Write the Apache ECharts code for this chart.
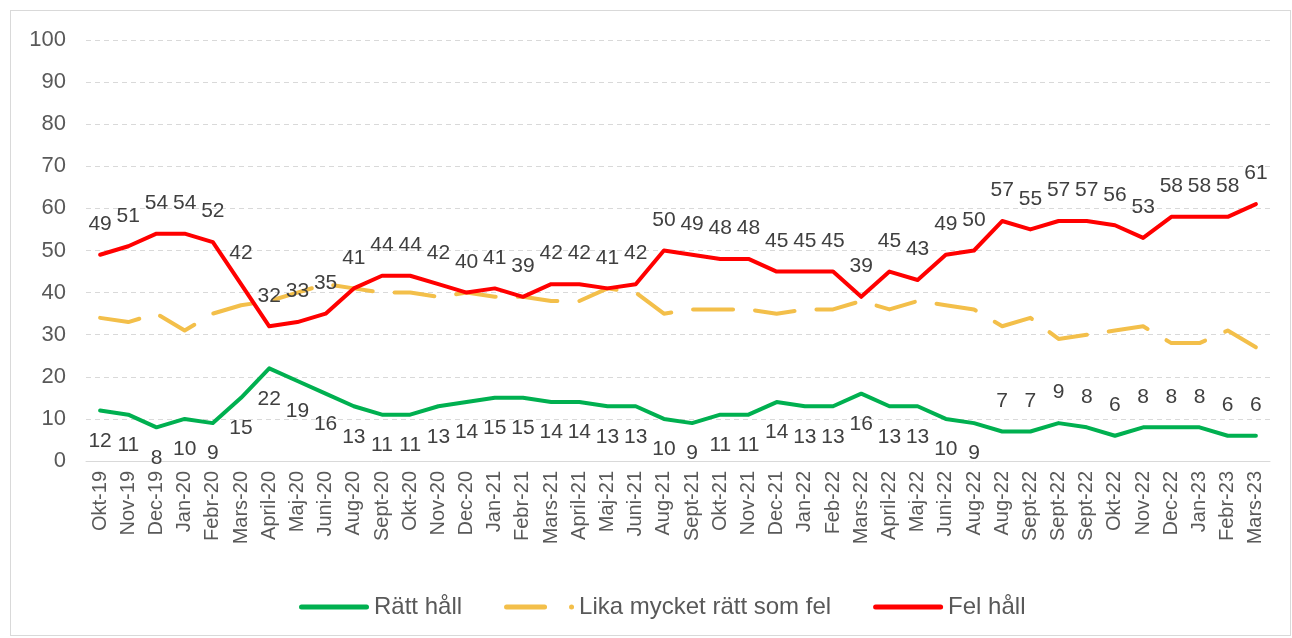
<!DOCTYPE html>
<html>
<head>
<meta charset="utf-8">
<script src="https://cdn.jsdelivr.net/npm/echarts@6/dist/echarts.min.js"></script>
<style>
  html, body { margin: 0; padding: 0; background: #fff; }
  #chart { position: absolute; left: 0; top: 0; width: 1292px; height: 638px; }
  #frame { position: absolute; left: 10px; top: 10px; width: 1279px; height: 624px; border: 1px solid #d9d9d9; }
</style>
</head>
<body>
<div id="frame"></div>
<div id="chart"></div>
<script>
// kategorier (månader)
const months = [
  'Okt-19', 'Nov-19', 'Dec-19', 'Jan-20', 'Febr-20', 'Mars-20', 'April-20', 'Maj-20', 'Juni-20',
  'Aug-20', 'Sept-20', 'Okt-20', 'Nov-20', 'Dec-20', 'Jan-21', 'Febr-21', 'Mars-21', 'April-21',
  'Maj-21', 'Juni-21', 'Aug-21', 'Sept-21', 'Okt-21', 'Nov-21', 'Dec-21', 'Jan-22', 'Feb-22',
  'Mars-22', 'April-22', 'Maj-22', 'Juni-22', 'Aug-22', 'Aug-22', 'Sept-22', 'Sept-22', 'Sept-22',
  'Okt-22', 'Nov-22', 'Dec-22', 'Jan-23', 'Febr-23', 'Mars-23'
];

const rattHall = [
  12, 11, 8, 10, 9, 15, 22, 19, 16, 13, 11, 11, 13, 14, 15, 15, 14, 14, 13, 13, 10,
  9, 11, 11, 14, 13, 13, 16, 13, 13, 10, 9, 7, 7, 9, 8, 6, 8, 8, 8, 6, 6
];

const likaMycket = [
  34, 33, 35, 31, 35, 37, 38, 40, 42, 41, 40, 40, 39, 40, 39, 39, 38, 38, 41, 40, 35,
  36, 36, 36, 35, 36, 36, 38, 36, 38, 37, 36, 32, 34, 29, 30, 31, 32, 28, 28, 31, 27
];

const felHall = [
  49, 51, 54, 54, 52, 42, 32, 33, 35, 41, 44, 44, 42, 40, 41, 39, 42, 42, 41, 42, 50,
  49, 48, 48, 45, 45, 45, 39, 45, 43, 49, 50, 57, 55, 57, 57, 56, 53, 58, 58, 58, 61
];

const yTicks = [0, 10, 20, 30, 40, 50, 60, 70, 80, 90, 100];

const chart = echarts.init(document.getElementById('chart'));

const FONT = 'Liberation Sans, Arial, sans-serif';

const labelStyle = {
  show: true,
  fontFamily: FONT,
  fontSize: 21,
  color: '#404040',
  distance: 20
};

// gröna etiketter: under linjen i början, ovanför mot slutet
const greenData = rattHall.map((v, i) => ({
  value: v,
  label: { position: i >= 32 ? 'top' : 'bottom' }
}));

const option = {
  animation: false,
  grid: { left: 86, right: 22, top: 40, bottom: 177 },
  xAxis: {
    type: 'category',
    data: months,
    boundaryGap: true,
    axisLine: { lineStyle: { color: '#d9d9d9', width: 1 } },
    axisTick: { show: false },
    axisLabel: {
      interval: 0,
      rotate: 90,
      color: '#595959',
      fontFamily: FONT,
      fontSize: 20,
      margin: 10
    }
  },
  yAxis: {
    type: 'value',
    min: yTicks[0],
    max: yTicks[yTicks.length - 1],
    interval: 10,
    axisLine: { show: false },
    axisTick: { show: false },
    axisLabel: {
      color: '#595959',
      fontFamily: FONT,
      fontSize: 22,
      margin: 20
    },
    splitLine: { lineStyle: { color: '#d9d9d9', type: [5, 4], width: 1 } }
  },
  legend: {
    bottom: 14,
    left: 294,
    itemWidth: 70,
    itemHeight: 5,
    itemGap: 42,
    textStyle: {
      color: '#595959',
      fontFamily: FONT,
      fontSize: 24
    },
    data: [
      { name: 'Rätt håll', icon: 'path://M2.5,0 H67.5 A2.5,2.5 0 0 1 67.5,5 H2.5 A2.5,2.5 0 0 1 2.5,0 Z' },
      { name: 'Lika mycket rätt som fel', icon: 'path://M2.5,0 H40.5 A2.5,2.5 0 0 1 40.5,5 H2.5 A2.5,2.5 0 0 1 2.5,0 Z M67.5,0 A2.5,2.5 0 0 1 67.5,5 A2.5,2.5 0 0 1 67.5,0 Z M70,2.5 Z' },
      { name: 'Fel håll', icon: 'path://M2.5,0 H67.5 A2.5,2.5 0 0 1 67.5,5 H2.5 A2.5,2.5 0 0 1 2.5,0 Z' }
    ]
  },
  series: [
    {
      name: 'Rätt håll',
      type: 'line',
      data: greenData,
      showSymbol: true,
      symbol: 'circle',
      symbolSize: 0,
      itemStyle: { color: '#00b050' },
      lineStyle: { color: '#00b050', width: 4, cap: 'round', join: 'round' },
      label: labelStyle,
      z: 3
    },
    {
      name: 'Lika mycket rätt som fel',
      type: 'line',
      data: likaMycket,
      showSymbol: false,
      symbol: 'none',
      itemStyle: { color: '#f3bf4a' },
      lineStyle: { color: '#f3bf4a', width: 4, type: [40, 22], cap: 'round', join: 'round' },
      z: 2
    },
    {
      name: 'Fel håll',
      type: 'line',
      data: felHall,
      showSymbol: true,
      symbol: 'circle',
      symbolSize: 0,
      itemStyle: { color: '#ff0000' },
      lineStyle: { color: '#ff0000', width: 4, cap: 'round', join: 'round' },
      label: Object.assign({}, labelStyle, { position: 'top' }),
      z: 4
    }
  ]
};

chart.setOption(option);
</script>
</body>
</html>
